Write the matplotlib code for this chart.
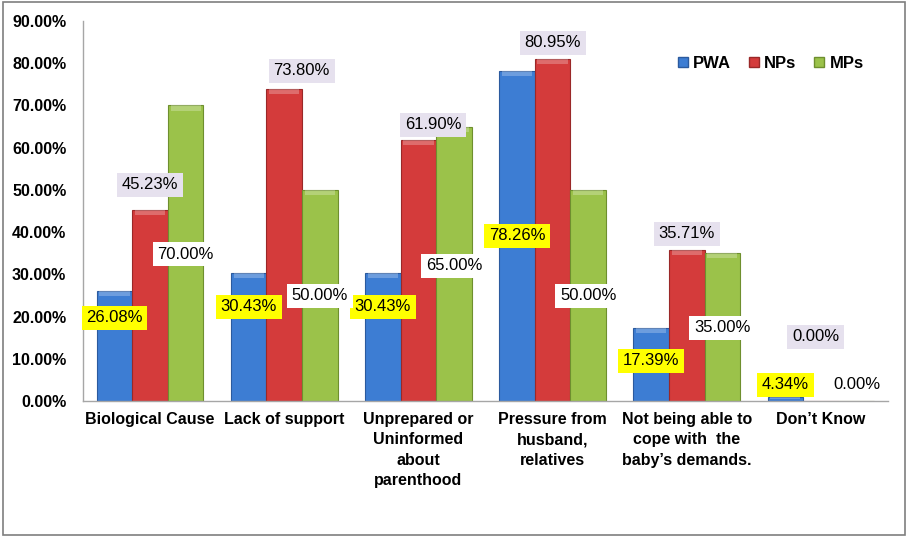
import matplotlib.pyplot as plt
from matplotlib.lines import Line2D
from matplotlib.patches import Rectangle
import numpy as np

plt.rcParams['font.family'] = ['Liberation Sans', 'DejaVu Sans']

categories = ["Biological Cause", "Lack of support",
              "Unprepared or\nUninformed\nabout\nparenthood",
              "Pressure from\nhusband,\nrelatives",
              "Not being able to\ncope with  the\nbaby\u2019s demands.",
              "Don\u2019t Know"]
series = ["PWA", "NPs", "MPs"]

# bar heights as drawn (%)
pwa = [26.08, 30.43, 30.43, 78.26, 17.39, 1.0]
nps = [45.23, 73.80, 61.90, 80.95, 35.71, 0.0]
mps = [70.00, 50.00, 65.00, 50.00, 35.00, 0.0]

# data label texts
pwa_labels = ["26.08%", "30.43%", "30.43%", "78.26%", "17.39%", "4.34%"]
nps_labels = ["45.23%", "73.80%", "61.90%", "80.95%", "35.71%", "0.00%"]
mps_labels = ["70.00%", "50.00%", "65.00%", "50.00%", "35.00%", "0.00%"]

# label placement (manually placed in original chart)
pwa_label_y = [19.7, 22.3, 22.3, 39.1, 9.5, 3.8]
nps_label_y = [51.2, 78.2, 65.4, 84.8, 39.6, 15.2]
mps_label_y = [34.8, 24.9, 32.0, 24.9, 17.3, 3.8]
nps_label_dx = [0.0, 0.13, 0.11, 0.0, 0.0, -0.04]

colors = ["#3D7DD3", "#D43B3B", "#9BC24A"]
edges = ["#2B5A9E", "#9A2828", "#6E8F2E"]
label_bg = ["#FFFF00", "#E6E1EE", "#FFFFFF"]

fig = plt.figure(figsize=(9.08, 5.37), dpi=100)
ax = fig.add_axes([0.0914, 0.2533, 0.8866, 0.7076])

x = np.arange(len(categories))
w = 0.265
all_vals = [pwa, nps, mps]
all_labels = [pwa_labels, nps_labels, mps_labels]
all_ly = [pwa_label_y, nps_label_y, mps_label_y]
all_dx = [[0.0] * 6, nps_label_dx, [0.0] * 6]

for k in range(3):
    xs = x + (k - 1) * w
    ax.bar(xs, all_vals[k], width=w, color=colors[k], edgecolor=edges[k],
           linewidth=0.8, zorder=2)
    # subtle bevel highlight on the bar top
    for xi, v in zip(xs, all_vals[k]):
        if v > 0:
            ax.add_patch(Rectangle((xi - w / 2 + 0.02, v - min(1.2, v * 0.5)),
                                   w - 0.04, min(1.2, v * 0.5),
                                   facecolor="white", alpha=0.25,
                                   linewidth=0, zorder=3))
    for xi, dx, ly, txt in zip(xs, all_dx[k], all_ly[k], all_labels[k]):
        ax.text(xi + dx, ly, txt, ha="center", va="center", fontsize=12,
                zorder=5,
                bbox=dict(boxstyle="square,pad=0.28", facecolor=label_bg[k],
                          edgecolor="none"))

ax.set_xlim(-0.5, len(categories) - 0.5)
ax.set_ylim(0, 90)
ax.set_yticks(np.arange(0, 91, 10))
ax.set_yticklabels([f"{v:.2f}%" for v in np.arange(0, 91, 10)],
                   fontsize=11.5, fontweight="bold")
ax.set_xticks(x)
ax.set_xticklabels(categories, fontsize=11.5, fontweight="bold",
                   linespacing=1.45)
ax.tick_params(axis="y", length=0, pad=12)
ax.tick_params(axis="x", length=0, pad=8)
for s in ["top", "right"]:
    ax.spines[s].set_visible(False)
for s in ["left", "bottom"]:
    ax.spines[s].set_color("#A6A6A6")
    ax.spines[s].set_linewidth(1.0)

handles = [Line2D([0], [0], marker="s", linestyle="none", markersize=6.5,
                  markerfacecolor=c, markeredgecolor=e)
           for c, e in zip(colors, edges)]
ax.legend(handles, series, loc="upper right", bbox_to_anchor=(0.98, 0.93),
          ncol=3, frameon=False, handlelength=0.6, handletextpad=0.3,
          columnspacing=1.1, borderpad=0,
          prop={"weight": "bold", "size": 12})

fig.patches.append(Rectangle((0.003, 0.004), 0.994, 0.992,
                             transform=fig.transFigure, fill=False,
                             edgecolor="#7F7F7F", linewidth=1.2))

fig.savefig("out.png", dpi=100)
